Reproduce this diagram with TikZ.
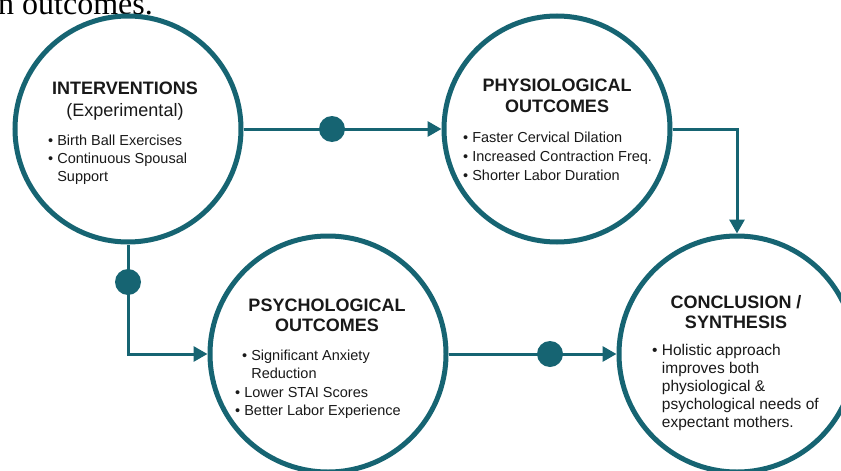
\documentclass[tikz,border=0pt]{standalone}
\usepackage{fontspec}
\setmainfont{Liberation Sans}
\newfontfamily\leadfont{Liberation Serif}
\usetikzlibrary{arrows.meta}
\definecolor{tealline}{RGB}{22,100,114}
\definecolor{inktext}{RGB}{25,25,25}

\begin{document}
\begin{tikzpicture}[x=1pt,y=-1pt,
  stage/.style={circle,draw=tealline,line width=5pt,fill=white,minimum size=#1,inner sep=0pt},
  link/.style={draw=tealline,line width=3pt,-{Triangle[length=14pt,width=15pt]}},
  dot/.style={circle,fill=tealline,inner sep=0pt,minimum size=26pt},
  head/.style={font=\fontsize{18}{#1}\selectfont\bfseries,text=inktext,align=center,inner sep=0pt,anchor=north},
  items/.style={font=\fontsize{14.5}{#1}\selectfont,text=inktext,align=left,inner sep=0pt,anchor=north west}]
\clip (0,0) rectangle (841,471);
\fill[white] (0,0) rectangle (841,471);
\node[anchor=base west,inner sep=0pt,font=\leadfont\fontsize{32}{32}\selectfont] (lead) at (-2,14) {n outcomes.};

\node[stage=226] (interv) at (128,129) {};
\node[stage=226] (physio) at (557,129) {};
\node[stage=236] (psycho) at (328,354) {};
\node[stage=236] (concl) at (737,354) {};

\draw[link] (interv) -- (physio);
\draw[link] (physio.east) -| (concl.north);
\draw[link] (interv.south) |- (psycho.west);
\draw[link] (psycho) -- (concl);
\foreach \x/\y [count=\i] in {332/129, 128/282, 550/354} { \node[dot] (dot\i) at (\x,\y) {}; };

% titles and bullet lists
\node[head=22] (interv-t) at (125,82) {INTERVENTIONS\\ \mdseries(Experimental)};
\node[items=18] (interv-l) at (48,134.5) {\textbullet\ Birth Ball Exercises\\ \textbullet\ Continuous Spousal\\ \phantom{\textbullet\ }Support};

\node[head=21] (physio-t) at (557,79) {PHYSIOLOGICAL\\ OUTCOMES};
\node[items=19] (physio-l) at (463,131.5) {\textbullet\ Faster Cervical Dilation\\ \textbullet\ Increased Contraction Freq.\\ \textbullet\ Shorter Labor Duration};

\node[head=20] (psycho-t) at (327,299) {PSYCHOLOGICAL\\ OUTCOMES};
\node[items=18.5] (psycho-l) at (235,349.5) {\hspace{7pt}\textbullet\ Significant Anxiety\\ \hspace{7pt}\phantom{\textbullet\ }Reduction\\ \textbullet\ Lower STAI Scores\\ \textbullet\ Better Labor Experience};

\node[head=20] (concl-t) at (736,295) {CONCLUSION /\\ SYNTHESIS};
\node[items=18,font=\fontsize{15.5}{18}\selectfont] (concl-l) at (652,344) {\textbullet\ Holistic approach\\ \phantom{\textbullet\ }improves both\\ \phantom{\textbullet\ }physiological \&\\ \phantom{\textbullet\ }psychological needs of\\ \phantom{\textbullet\ }expectant mothers.};
\end{tikzpicture}
\end{document}
